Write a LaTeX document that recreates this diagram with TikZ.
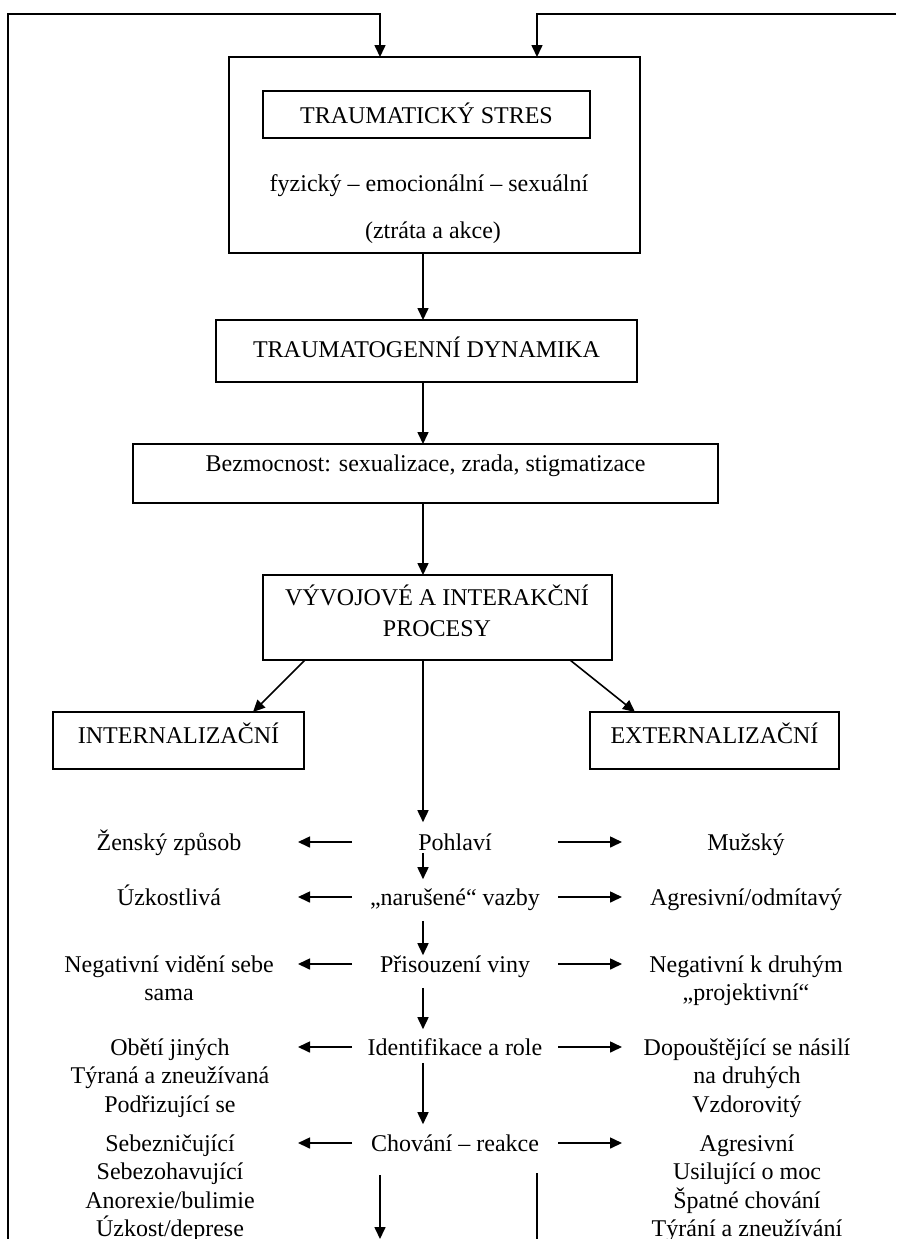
\documentclass[tikz,border=0pt]{standalone}
\usepackage{fontspec}
\setmainfont{Liberation Serif}
\usetikzlibrary{arrows.meta}

\begin{document}
\begin{tikzpicture}[x=0.5pt, y=-0.5pt, line width=0.8pt,
    font=\fontsize{12pt}{14.25pt}\selectfont,
    >={Triangle[length=6pt, width=5.5pt]},
    box/.style={draw, inner sep=0pt, outer sep=0pt},
    txt/.style={inner sep=0pt, align=center, anchor=base},
    mid/.style={inner sep=0pt, anchor=base, text height=8pt, text depth=0pt},
    vgap/.style 2 args={shorten <=#1, shorten >=#2}]
  \useasboundingbox (0,0) rectangle (896,1239);

  % boxes
  \node[box, minimum width=205.5pt, minimum height=98pt] (trauma) at (434.5,155) {};
  \node[box, anchor=base, minimum width=163.5pt, text height=16pt, text depth=7.5pt] (stres) at (426.5,123) {TRAUMATICKÝ STRES};
  \node[txt] (druhy) at (429,191) {fyzický – emocionální – sexuální};
  \node[txt] (akce) at (433,238) {(ztráta a akce)};
  \node[box, anchor=base, minimum width=210.5pt, text height=18.5pt, text depth=12.5pt] (dyn) at (426.5,357) {TRAUMATOGENNÍ DYNAMIKA};
  \node[box, anchor=base, minimum width=292.5pt, text height=13.5pt, text depth=16pt] (bezm) at (425.5,471) {Bezmocnost: sexualizace, zrada, stigmatizace};
  \node[box, minimum width=174.5pt, minimum height=42.5pt] (proc) at (437.5,617.5) {};
  % base of a multi-line text = its last line
  \node[txt, font=\fontsize{12pt}{15.5pt}\selectfont] (proctext) at (437,636) {VÝVOJOVÉ A INTERAKČNÍ\\PROCESY};
  \node[box, anchor=base, minimum width=125.5pt, text height=15.5pt, text depth=13pt] (intern) at (178.5,743) {INTERNALIZAČNÍ};
  \node[box, anchor=base, minimum width=124.5pt, text height=15.5pt, text depth=13pt] (extern) at (714.5,743) {EXTERNALIZAČNÍ};

  % middle column
  \node[mid] (pohl) at (455,850) {Pohlaví};
  \node[mid] (vazby) at (455,905) {„narušené“ vazby};
  \node[mid] (vina) at (455,972) {Přisouzení viny};
  \node[mid] (role) at (455,1055) {Identifikace a role};
  \node[mid] (chov) at (455,1151) {Chování – reakce};

  % left column
  \node[txt] (zensky) at (169,850) {Ženský způsob};
  \node[txt] (uzkost) at (169,905) {Úzkostlivá};
  \node[txt] (negsebe) at (169,1000.5) {Negativní vidění sebe\\sama};
  \node[txt] (obeti) at (170,1112) {Obětí jiných\\Týraná a zneužívaná\\Podřizující se};
  \node[txt] (sebezn) at (170,1236.5) {Sebezničující\\Sebezohavující\\Anorexie/bulimie\\Úzkost/deprese};

  % right column
  \node[txt] (muzsky) at (746,850) {Mužský};
  \node[txt] (agres) at (746,905) {Agresivní/odmítavý};
  \node[txt] (negdruh) at (746,1000.5) {Negativní k druhým\\„projektivní“};
  \node[txt] (dopoust) at (747,1112) {Dopouštějící se násilí\\na druhých\\Vzdorovitý};
  \node[txt] (agresiv) at (747,1236.5) {Agresivní\\Usilující o moc\\Špatné chování\\Týrání a zneužívání};

  \coordinate (spine) at (423,0);
  \coordinate (ltail) at (352,0);
  \coordinate (ltip) at (298,0);
  \coordinate (rtail) at (558,0);
  \coordinate (rtip) at (622,0);

  % main flow
  \draw[->] (trauma.south -| spine) -- (dyn.north -| spine);
  \draw[->] (dyn.south -| spine) -- (bezm.north -| spine);
  \draw[->] (bezm.south -| spine) -- (proc.north -| spine);
  \draw[->] ([xshift=21pt]proc.south west) -- ([xshift=100pt]intern.north west);
  \draw[->] ([xshift=-21pt]proc.south east) -- ([xshift=22.5pt]extern.north west);
  \draw[->, vgap={0pt}{5.5pt}] (proc.south -| spine) -- (pohl.north -| spine);
  \draw[->, vgap={1pt}{4.5pt}] (pohl.south -| spine) -- (vazby.north -| spine);
  \draw[->, vgap={7.5pt}{0pt}] (vazby.south -| spine) -- (vina.north -| spine);
  \draw[->, vgap={7.5pt}{4.5pt}] (vina.south -| spine) -- (role.north -| spine);
  \draw[->, vgap={3.5pt}{5pt}] (role.south -| spine) -- (chov.north -| spine);

  % side arrows
  \foreach \n in {pohl,vazby,vina,role,chov} {
    \draw[->] (ltail |- \n) -- (ltip |- \n);
    \draw[->] (rtail |- \n) -- (rtip |- \n);
  }

  % feedback lines
  \coordinate (outL) at (380,1175);
  \coordinate (endL) at (380,1239);
  \coordinate (outR) at (537,1173);
  \coordinate (endR) at (537,1239);
  \coordinate (retL) at (8,1239);
  \coordinate (cornL) at (8,14);
  \coordinate (retR) at (896,14);
  \draw[->] (outL) -- (endL);
  \draw (outR) -- (endR);
  \draw[->] (retL) -- (cornL) -| (trauma.north -| outL);
  \draw[->] (retR) -| (trauma.north -| outR);
\end{tikzpicture}
\end{document}
